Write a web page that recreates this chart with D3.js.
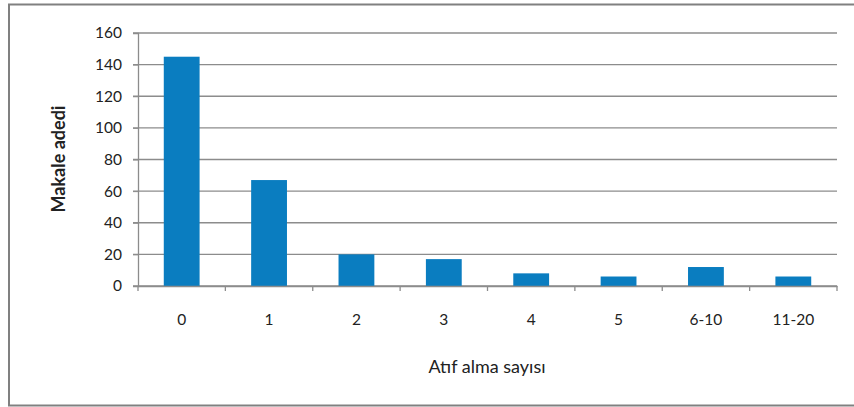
<!DOCTYPE html>
<html><head><meta charset="utf-8">
<script src="https://cdn.jsdelivr.net/npm/d3@7"></script>
<style>body{margin:0;background:#fff;}svg{display:block;}text{font-family:Lato,"Open Sans",sans-serif;}</style>
</head><body>
<svg id="c" width="854" height="407"></svg>
<script>
const categories = ["0","1","2","3","4","5","6-10","11-20"];
const values = [145,67,20,17,8,6,12,6];
const yTicks = [0,20,40,60,80,100,120,140,160];

const svg = d3.select("#c");
svg.append("rect").attr("x",9).attr("y",4.5).attr("width",860).attr("height",401)
  .attr("fill","#fff").attr("stroke","#808080").attr("stroke-width",2);

const L=138, R=837, T=33, B=286;
const x = d3.scaleBand().domain(categories).range([L,R]).paddingInner(0.59).paddingOuter(0.295);
const xb = d3.scaleBand().domain(categories).range([L,R]);
const y = d3.scaleLinear().domain([0,160]).range([B,T]);

// gridlines
svg.append("g").selectAll("line").data(yTicks).join("line")
  .attr("x1",L-5).attr("x2",R).attr("y1",d=>y(d)).attr("y2",d=>y(d))
  .attr("stroke","#8c8c8c").attr("stroke-width",1.3);

// y axis
const ya = svg.append("g").attr("transform",`translate(${L},0)`)
  .call(d3.axisLeft(y).tickValues(yTicks).tickSize(5).tickPadding(11));
ya.select(".domain").attr("stroke","#8c8c8c").attr("stroke-width",1.3);
ya.selectAll(".tick line").attr("stroke","#8c8c8c");
ya.selectAll("text").attr("font-size",15.5).attr("fill","#222");

// bars
svg.append("g").selectAll("rect").data(values).join("rect")
  .attr("x",(d,i)=>x(categories[i])).attr("width",x.bandwidth())
  .attr("y",d=>y(d)).attr("height",d=>B-y(d)).attr("fill","#0a7dc0");

// x axis
const xa = svg.append("g").attr("transform",`translate(0,${B})`)
  .call(d3.axisBottom(xb).tickSize(0).tickPadding(28));
xa.select(".domain").attr("stroke","#8c8c8c").attr("stroke-width",1.3);
xa.selectAll("text").attr("font-size",15.5).attr("fill","#222");
const edges = categories.map(c=>xb(c)).concat([R]);
svg.append("g").selectAll("line").data(edges).join("line")
  .attr("x1",d=>d).attr("x2",d=>d).attr("y1",B).attr("y2",B+5)
  .attr("stroke","#8c8c8c").attr("stroke-width",1.3);

svg.append("text").attr("x",487).attr("y",373).attr("text-anchor","middle")
  .attr("font-size",18).attr("fill","#222").text("Atıf alma sayısı");
svg.append("text").attr("transform","translate(65,159) rotate(-90)").attr("text-anchor","middle")
  .attr("font-size",18).attr("font-weight","bold").attr("fill","#222").text("Makale adedi");
</script>
</body></html>
